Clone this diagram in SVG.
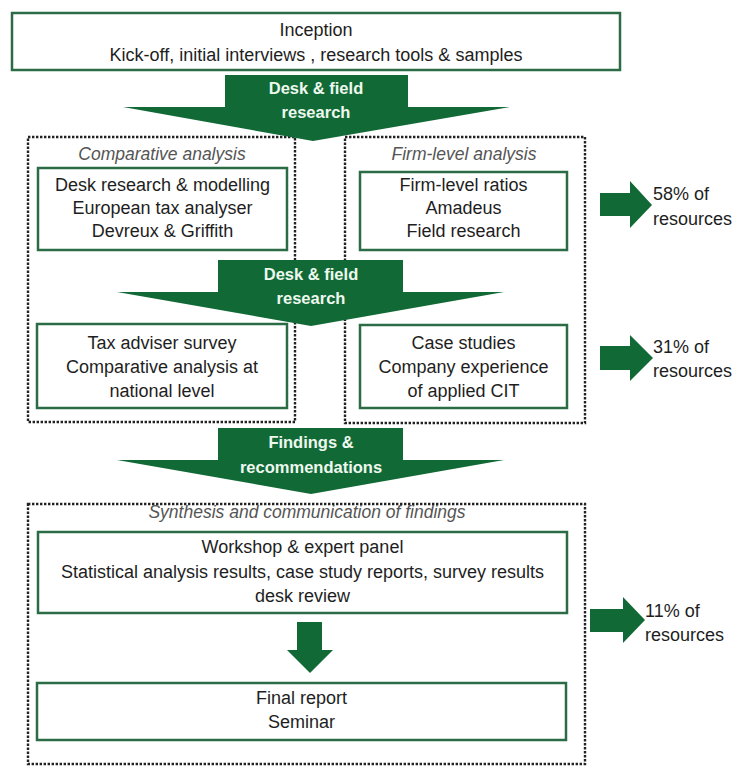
<svg xmlns="http://www.w3.org/2000/svg" width="737" height="767" viewBox="0 0 737 767">
<style>
.box{fill:#fff;stroke:#2b6b45;stroke-width:2.5}
.dot{fill:none;stroke:#222;stroke-width:2.4;stroke-dasharray:2.4 1.6}
.t{font-family:"Liberation Sans",Arial,sans-serif;font-size:18px;fill:#1e1e1e;text-anchor:middle}
.l{font-family:"Liberation Sans",Arial,sans-serif;font-size:18px;fill:#1e1e1e}
.i{font-family:"Liberation Sans",Arial,sans-serif;font-size:17.5px;font-style:italic;fill:#555;text-anchor:middle}
.arr{fill:#116a36}
.at{font-family:"Liberation Sans",Arial,sans-serif;font-size:16.5px;font-weight:bold;fill:#eef8ee;text-anchor:middle}
</style>
<rect width="737" height="767" fill="#fff"/>

<g id="inception">
<rect class="box" x="12" y="13" width="608" height="57"/>
<text class="t" x="316" y="36">Inception</text>
<text class="t" x="316" y="61">Kick-off, initial interviews , research tools &amp; samples</text>
</g>

<g id="comparative-analysis">
<rect class="dot" x="28" y="137" width="267" height="285"/>
<text class="i" x="162" y="160">Comparative analysis</text>
</g>

<g id="firm-level-analysis">
<rect class="dot" x="345" y="137" width="240" height="286"/>
<text class="i" x="464" y="160">Firm-level analysis</text>
</g>

<g id="synthesis">
<rect class="dot" x="28" y="504" width="557" height="260"/>
<text class="i" x="307" y="518">Synthesis and communication of findings</text>
</g>

<g id="desk-research">
<rect class="box" x="38" y="168" width="249" height="82"/>
<text class="t" x="162.5" y="191">Desk research &amp; modelling</text>
<text class="t" x="162.5" y="214">European tax analyser</text>
<text class="t" x="162.5" y="237">Devreux &amp; Griffith</text>
</g>

<g id="firm-level-ratios">
<rect class="box" x="360" y="172" width="207" height="78"/>
<text class="t" x="463.5" y="191">Firm-level ratios</text>
<text class="t" x="463.5" y="214">Amadeus</text>
<text class="t" x="463.5" y="237">Field research</text>
</g>

<g id="tax-adviser-survey">
<rect class="box" x="37" y="324" width="250" height="84"/>
<text class="t" x="162" y="349">Tax adviser survey</text>
<text class="t" x="162" y="373">Comparative analysis at</text>
<text class="t" x="162" y="397">national level</text>
</g>

<g id="case-studies">
<rect class="box" x="360" y="325" width="207" height="83"/>
<text class="t" x="463.5" y="349">Case studies</text>
<text class="t" x="463.5" y="373">Company experience</text>
<text class="t" x="463.5" y="397">of applied CIT</text>
</g>

<g id="workshop">
<rect class="box" x="38" y="532" width="529" height="81"/>
<text class="t" x="302.5" y="553">Workshop &amp; expert panel</text>
<text class="t" x="302.5" y="578">Statistical analysis results, case study reports, survey results</text>
<text class="t" x="302.5" y="602">desk review</text>
</g>

<g id="final-report">
<rect class="box" x="37" y="683" width="529" height="57"/>
<text class="t" x="301.5" y="704">Final report</text>
<text class="t" x="301.5" y="728">Seminar</text>
</g>

<g id="resources-58">
<text class="l" x="653" y="200">58% of</text>
<text class="l" x="653" y="225">resources</text>
</g>
<g id="resources-31">
<text class="l" x="653" y="353">31% of</text>
<text class="l" x="653" y="377">resources</text>
</g>
<g id="resources-11">
<text class="l" x="645" y="617">11% of</text>
<text class="l" x="645" y="641">resources</text>
</g>

<g id="connectors">
<polygon class="arr" points="225,75 408,75 408,107 510,107 313,141 123,107 225,107"/>
<text class="at" x="316" y="94">Desk &amp; field</text>
<text class="at" x="316" y="118">research</text>

<polygon class="arr" points="218,260 403,260 403,292 504,292 311,326 117,292 218,292"/>
<text class="at" x="311" y="280">Desk &amp; field</text>
<text class="at" x="311" y="304">research</text>

<polygon class="arr" points="218,428 403,428 403,460 504,460 311,494 117,460 218,460"/>
<text class="at" x="311" y="448">Findings &amp;</text>
<text class="at" x="311" y="473">recommendations</text>

<polygon class="arr" points="297,622 322,622 322,650 333,650 310,673 287,650 297,650"/>

<polygon class="arr" points="600,193 630,193 630,181 652,205 630,228 630,216 600,216"/>
<polygon class="arr" points="600,346 630,346 630,335 653,358 630,381 630,370 600,370"/>
<polygon class="arr" points="590,609 623,609 623,597 645,620 623,643 623,632 590,632"/>
</g>
</svg>
